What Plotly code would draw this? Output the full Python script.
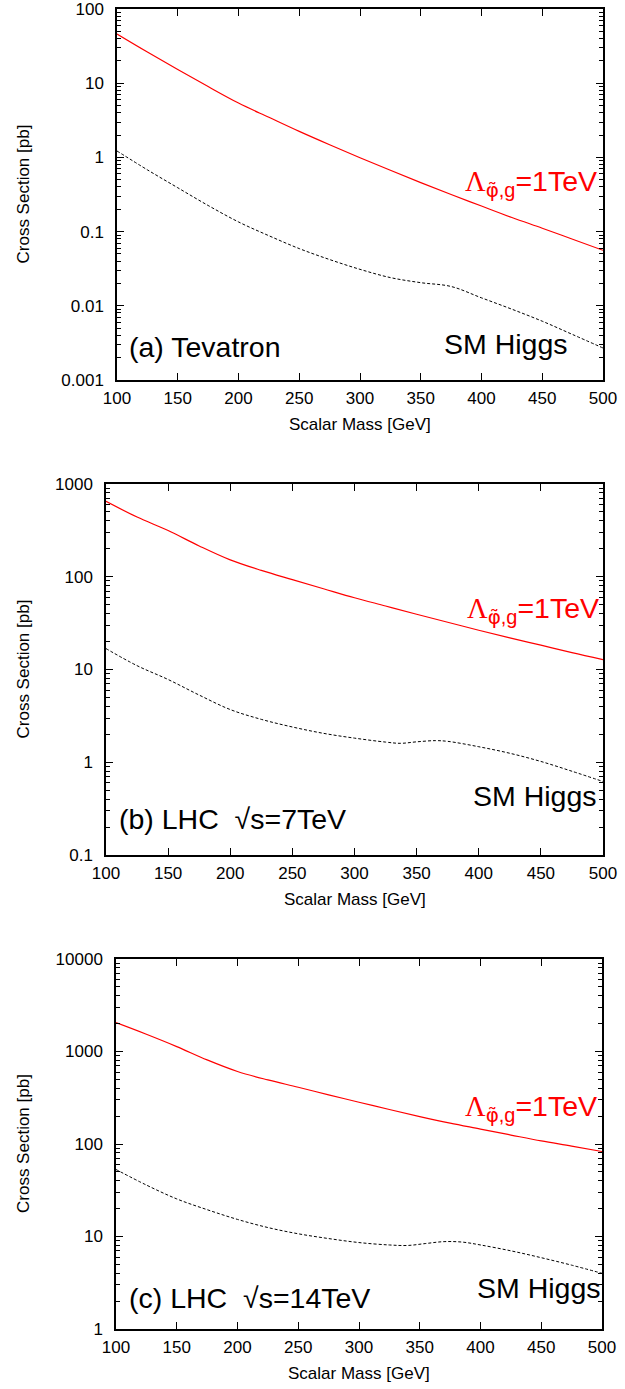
import plotly.graph_objects as go

W, H = 625, 1389
FONT = "Liberation Sans, Arial, Helvetica, sans-serif"

# ---------------- data ----------------
mass = [100, 125, 150, 175, 200, 225, 250, 275, 300, 325, 350, 375, 400, 425, 450, 475, 500]

# (a) Tevatron
tev_lambda = [46, 26.3, 15.3, 9.0, 5.4, 3.47, 2.24, 1.48, 0.99, 0.67, 0.457, 0.316, 0.221, 0.155, 0.111, 0.079, 0.056]
tev_higgs_mass = [100, 125, 150, 175, 200, 225, 250, 275, 300, 325, 350, 375, 400, 425, 450, 475, 500]
tev_higgs = [1.22, 0.68, 0.39, 0.225, 0.135, 0.088, 0.059, 0.042, 0.031, 0.024, 0.0205, 0.0182, 0.0128, 0.009, 0.0062, 0.0041, 0.0027]

# (b) LHC 7 TeV
lhc7_lambda = [650, 440, 315, 215, 152, 117, 93, 74.3, 59.4, 48.4, 39.4, 32.3, 26.5, 21.9, 18.3, 15.2, 12.8]
lhc7_higgs_mass = [100, 125, 150, 175, 200, 225, 250, 275, 300, 325, 337, 350, 365, 375, 400, 425, 450, 475, 500]
lhc7_higgs = [16.8, 11, 7.8, 5.3, 3.7, 2.9, 2.4, 2.05, 1.82, 1.65, 1.6, 1.66, 1.71, 1.68, 1.47, 1.25, 1.02, 0.8, 0.62]

# (c) LHC 14 TeV
lhc14_lambda = [2050, 1535, 1130, 811, 608, 493, 411, 340, 283, 236, 198, 168, 145, 125, 108, 95, 83]
lhc14_higgs_mass = [100, 125, 150, 175, 200, 225, 250, 275, 300, 325, 340, 355, 370, 385, 400, 425, 450, 475, 500]
lhc14_higgs = [53, 36, 25.5, 19.5, 15.3, 12.5, 10.7, 9.5, 8.6, 8.1, 8.0, 8.4, 8.8, 8.7, 8.1, 7.0, 5.9, 4.9, 4.0]

x_ticks = [100, 150, 200, 250, 300, 350, 400, 450, 500]
tev_yticks = [0.001, 0.01, 0.1, 1, 10, 100]
tev_yticktext = ["0.001", "0.01", "0.1", "1", "10", "100"]
lhc7_yticks = [0.1, 1, 10, 100, 1000]
lhc7_yticktext = ["0.1", "1", "10", "100", "1000"]
lhc14_yticks = [1, 10, 100, 1000, 10000]
lhc14_yticktext = ["1", "10", "100", "1000", "10000"]

panel_labels = ["(a) Tevatron", "(b) LHC\u00a0\u00a0\u221as=7TeV", "(c) LHC\u00a0\u00a0\u221as=14TeV"]
lambda_label = ("<span style='font-family:Liberation Serif'>\u039b</span>"
                "<sub><span style='font-family:DejaVu Sans'>\u03c6\u0303</span>,g</sub>=1TeV")
higgs_label = "SM Higgs"
x_title = "Scalar Mass [GeV]"
y_title = "Cross Section [pb]"

# ---------------- layout helpers (pixel boxes) ----------------
def fx(p):
    return p / W

def fy(p):
    return 1 - p / H

boxes = [  # left, right, top, bottom in px
    (117, 603, 9, 380),
    (106, 603, 484, 855),
    (116, 602, 959, 1329),
]

def minor_vals(lo_exp, hi_exp):
    out = []
    for e in range(lo_exp, hi_exp):
        for m in range(2, 10):
            out.append(m * 10 ** e)
    return out

panels = [
    dict(lam=tev_lambda, hx=tev_higgs_mass, hy=tev_higgs, yt=tev_yticks, ytt=tev_yticktext, yr=(-3, 2)),
    dict(lam=lhc7_lambda, hx=lhc7_higgs_mass, hy=lhc7_higgs, yt=lhc7_yticks, ytt=lhc7_yticktext, yr=(-1, 3)),
    dict(lam=lhc14_lambda, hx=lhc14_higgs_mass, hy=lhc14_higgs, yt=lhc14_yticks, ytt=lhc14_yticktext, yr=(0, 4)),
]

fig = go.Figure()
layout = dict(
    width=W, height=H,
    margin=dict(l=0, r=0, t=0, b=0, pad=0),
    paper_bgcolor="white", plot_bgcolor="white",
    showlegend=False,
    font=dict(family=FONT, color="black", size=17),
)
annotations = []

for i, (p, b) in enumerate(zip(panels, boxes)):
    n = "" if i == 0 else str(i + 1)
    xa, ya = "x" + n, "y" + n
    fig.add_trace(go.Scatter(x=mass, y=p["lam"], mode="lines", xaxis=xa, yaxis=ya, hoverinfo="skip",
                             line=dict(color="#ff0000", width=1.2, shape="spline", smoothing=1.0)))
    fig.add_trace(go.Scatter(x=p["hx"], y=p["hy"], mode="lines", xaxis=xa, yaxis=ya, hoverinfo="skip",
                             line=dict(color="black", width=1, dash="3px,2px", shape="spline", smoothing=1.0)))
    l, r, t, bt = b
    layout["xaxis" + n] = dict(
        domain=[fx(l), fx(r)], anchor=ya, range=[100, 500], automargin=False,
        tickvals=x_ticks, ticks="inside", ticklen=7, tickwidth=1, tickcolor="black",
        mirror="ticks", showline=True, linewidth=1.5, linecolor="black",
        showgrid=False, zeroline=False, tickfont=dict(size=17, family=FONT),
        ticklabelstandoff=2, ticklabeloverflow="allow",
    )
    layout["yaxis" + n] = dict(
        domain=[fy(bt), fy(t)], anchor=xa, type="log", range=list(p["yr"]), automargin=False,
        tickvals=p["yt"], ticktext=p["ytt"], ticks="inside", ticklen=7, tickwidth=1, tickcolor="black",
        mirror="ticks", showline=True, linewidth=1.5, linecolor="black",
        showgrid=False, zeroline=False, tickfont=dict(size=17, family=FONT),
        ticklabelstandoff=8, ticklabeloverflow="allow",
        minor=dict(tickvals=minor_vals(p["yr"][0], p["yr"][1]), ticks="inside", ticklen=4,
                   tickwidth=1, tickcolor="black", showgrid=False),
    )
    # axis titles
    annotations.append(dict(text=y_title, x=fx(23), y=fy((t + bt) / 2), xref="paper", yref="paper",
                            textangle=-90, showarrow=False, xanchor="center", yanchor="middle",
                            font=dict(size=17, family=FONT)))
    annotations.append(dict(text=x_title, x=fx((l + r) / 2), y=fy(bt + 44), xref="paper", yref="paper",
                            showarrow=False, xanchor="center", yanchor="middle",
                            font=dict(size=17, family=FONT)))

# in-plot labels (pixel positions)
label_pos = [
    # (panel label left x, y), (higgs right x, y), (lambda right x, y)
    ((127, 347), (570, 344), (599, 184)),
    ((117, 819), (599, 796), (601, 610)),
    ((127, 1298), (603, 1288), (599, 1108)),
]
for i, (pl, hl, ll) in enumerate(label_pos):
    annotations.append(dict(text=panel_labels[i], x=fx(pl[0]), y=fy(pl[1]), xref="paper", yref="paper",
                            showarrow=False, xanchor="left", yanchor="middle",
                            font=dict(size=28.5, family=FONT, color="black")))
    annotations.append(dict(text=higgs_label, x=fx(hl[0]), y=fy(hl[1]), xref="paper", yref="paper",
                            showarrow=False, xanchor="right", yanchor="middle",
                            font=dict(size=28.5, family=FONT, color="black")))
    annotations.append(dict(text=lambda_label, x=fx(ll[0]), y=fy(ll[1]), xref="paper", yref="paper",
                            showarrow=False, xanchor="right", yanchor="middle",
                            font=dict(size=28.5, family=FONT, color="#ff0000")))

layout["annotations"] = annotations
fig.update_layout(**layout)
# remove the browser's default 8px page margin so the figure fills the window exactly
fig.write_html("out.html", config={"displayModeBar": False},
               post_script="document.body.style.margin='0';")
